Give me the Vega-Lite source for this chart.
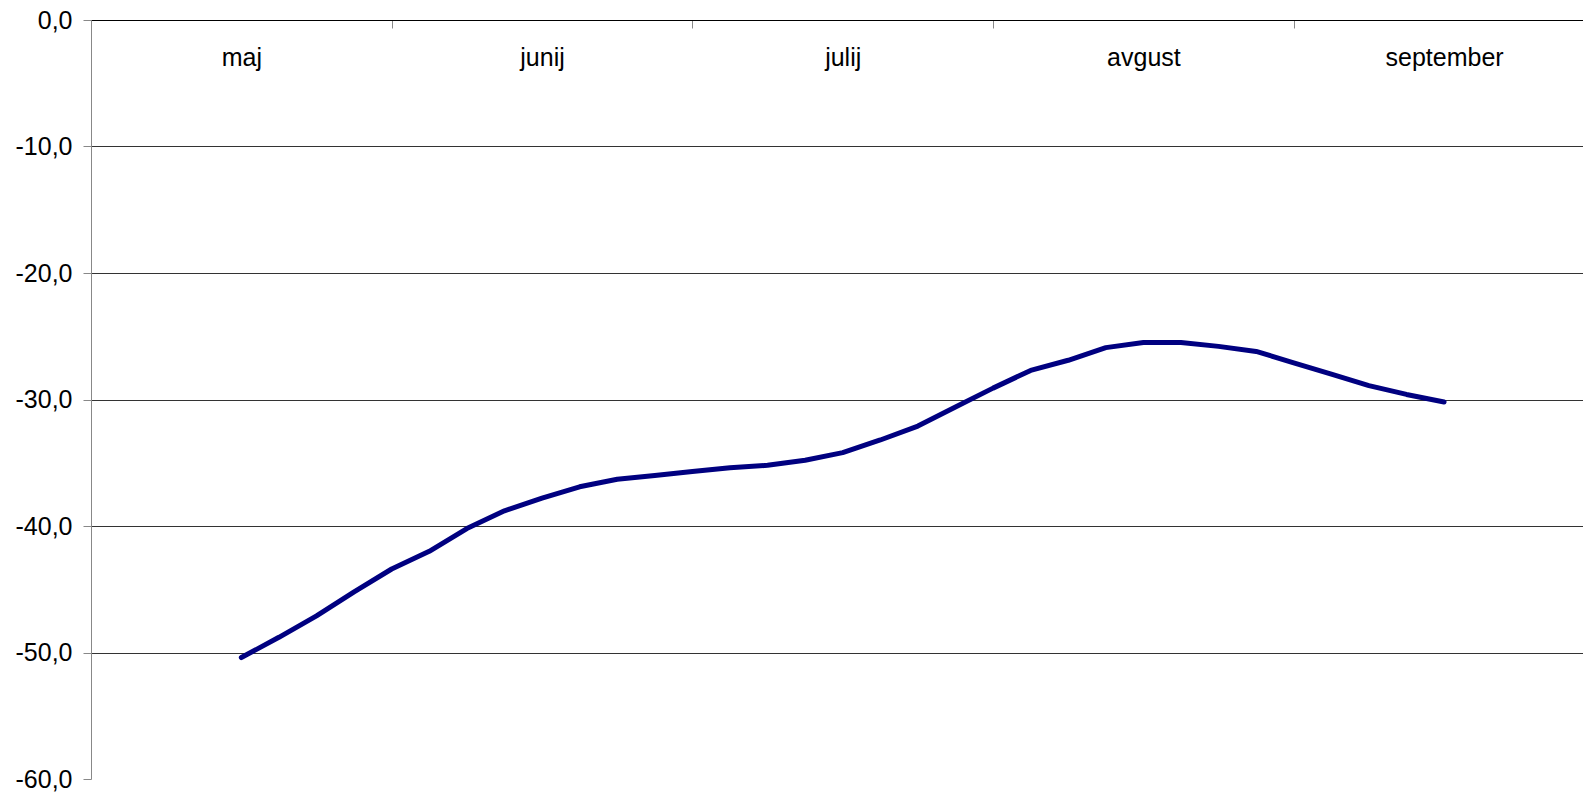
{
  "$schema": "https://vega.github.io/schema/vega-lite/v6.json",
  "width": 1492,
  "height": 759,
  "autosize": {"type": "none"},
  "padding": {"left": 91, "top": 20, "right": 0, "bottom": 13},
  "background": "white",
  "config": {
    "view": {"stroke": null},
    "font": "Liberation Sans"
  },
  "data": {
    "values": [
      {"t": 0.5, "v": -50.4},
      {"t": 0.625, "v": -48.8},
      {"t": 0.75, "v": -47.1},
      {"t": 0.875, "v": -45.2},
      {"t": 1.0, "v": -43.4},
      {"t": 1.125, "v": -42.0},
      {"t": 1.25, "v": -40.2},
      {"t": 1.375, "v": -38.8},
      {"t": 1.5, "v": -37.8},
      {"t": 1.625, "v": -36.9},
      {"t": 1.75, "v": -36.3},
      {"t": 1.875, "v": -36.0},
      {"t": 2.0, "v": -35.7},
      {"t": 2.125, "v": -35.4},
      {"t": 2.25, "v": -35.2},
      {"t": 2.375, "v": -34.8},
      {"t": 2.5, "v": -34.2},
      {"t": 2.625, "v": -33.2},
      {"t": 2.75, "v": -32.1},
      {"t": 2.875, "v": -30.6},
      {"t": 3.0, "v": -29.1},
      {"t": 3.125, "v": -27.7},
      {"t": 3.25, "v": -26.9},
      {"t": 3.375, "v": -25.9},
      {"t": 3.5, "v": -25.5},
      {"t": 3.625, "v": -25.5},
      {"t": 3.75, "v": -25.8},
      {"t": 3.875, "v": -26.2},
      {"t": 4.0, "v": -27.1},
      {"t": 4.125, "v": -28.0},
      {"t": 4.25, "v": -28.9},
      {"t": 4.375, "v": -29.6},
      {"t": 4.5, "v": -30.2}
    ]
  },
  "mark": {"type": "line", "color": "#000080", "strokeWidth": 5, "strokeCap": "round", "strokeJoin": "round"},
  "encoding": {
    "x": {
      "field": "t",
      "type": "quantitative",
      "scale": {"domain": [0, 4.962], "nice": false, "zero": false},
      "axis": {
        "orient": "top",
        "title": null,
        "values": [0, 0.5, 1, 1.5, 2, 2.5, 3, 3.5, 4, 4.5],
        "labelExpr": "datum.value % 1 === 0 ? '' : ['maj','junij','julij','avgust','september'][floor(datum.value)]",
        "labelFontSize": 25,
        "labelColor": "#000",
        "labelBaseline": "middle",
        "labelPadding": -29,
        "labelFlush": false,
        "labelOverlap": false,
        "domainColor": "#000",
        "domainWidth": 1,
        "tickColor": "#888",
        "tickSize": -8,
        "tickWidth": 1,
        "tickOpacity": {"condition": {"test": "datum.value % 1 === 0", "value": 1}, "value": 0},
        "grid": false
      }
    },
    "y": {
      "field": "v",
      "type": "quantitative",
      "scale": {"domain": [-60, 0], "nice": false},
      "axis": {
        "title": null,
        "values": [0, -10, -20, -30, -40, -50, -60],
        "labelExpr": "(datum.value < 0 ? '-' : '') + replace(format(abs(datum.value), '.1f'), '.', ',')",
        "labelFontSize": 25,
        "labelColor": "#000",
        "labelPadding": 11,
        "tickSize": 8,
        "tickColor": "#888",
        "domainColor": "#888",
        "grid": true,
        "gridColor": "#333",
        "gridWidth": 1,
        "gridOpacity": {"condition": {"test": "datum.value === -60", "value": 0}, "value": 1}
      }
    }
  }
}
